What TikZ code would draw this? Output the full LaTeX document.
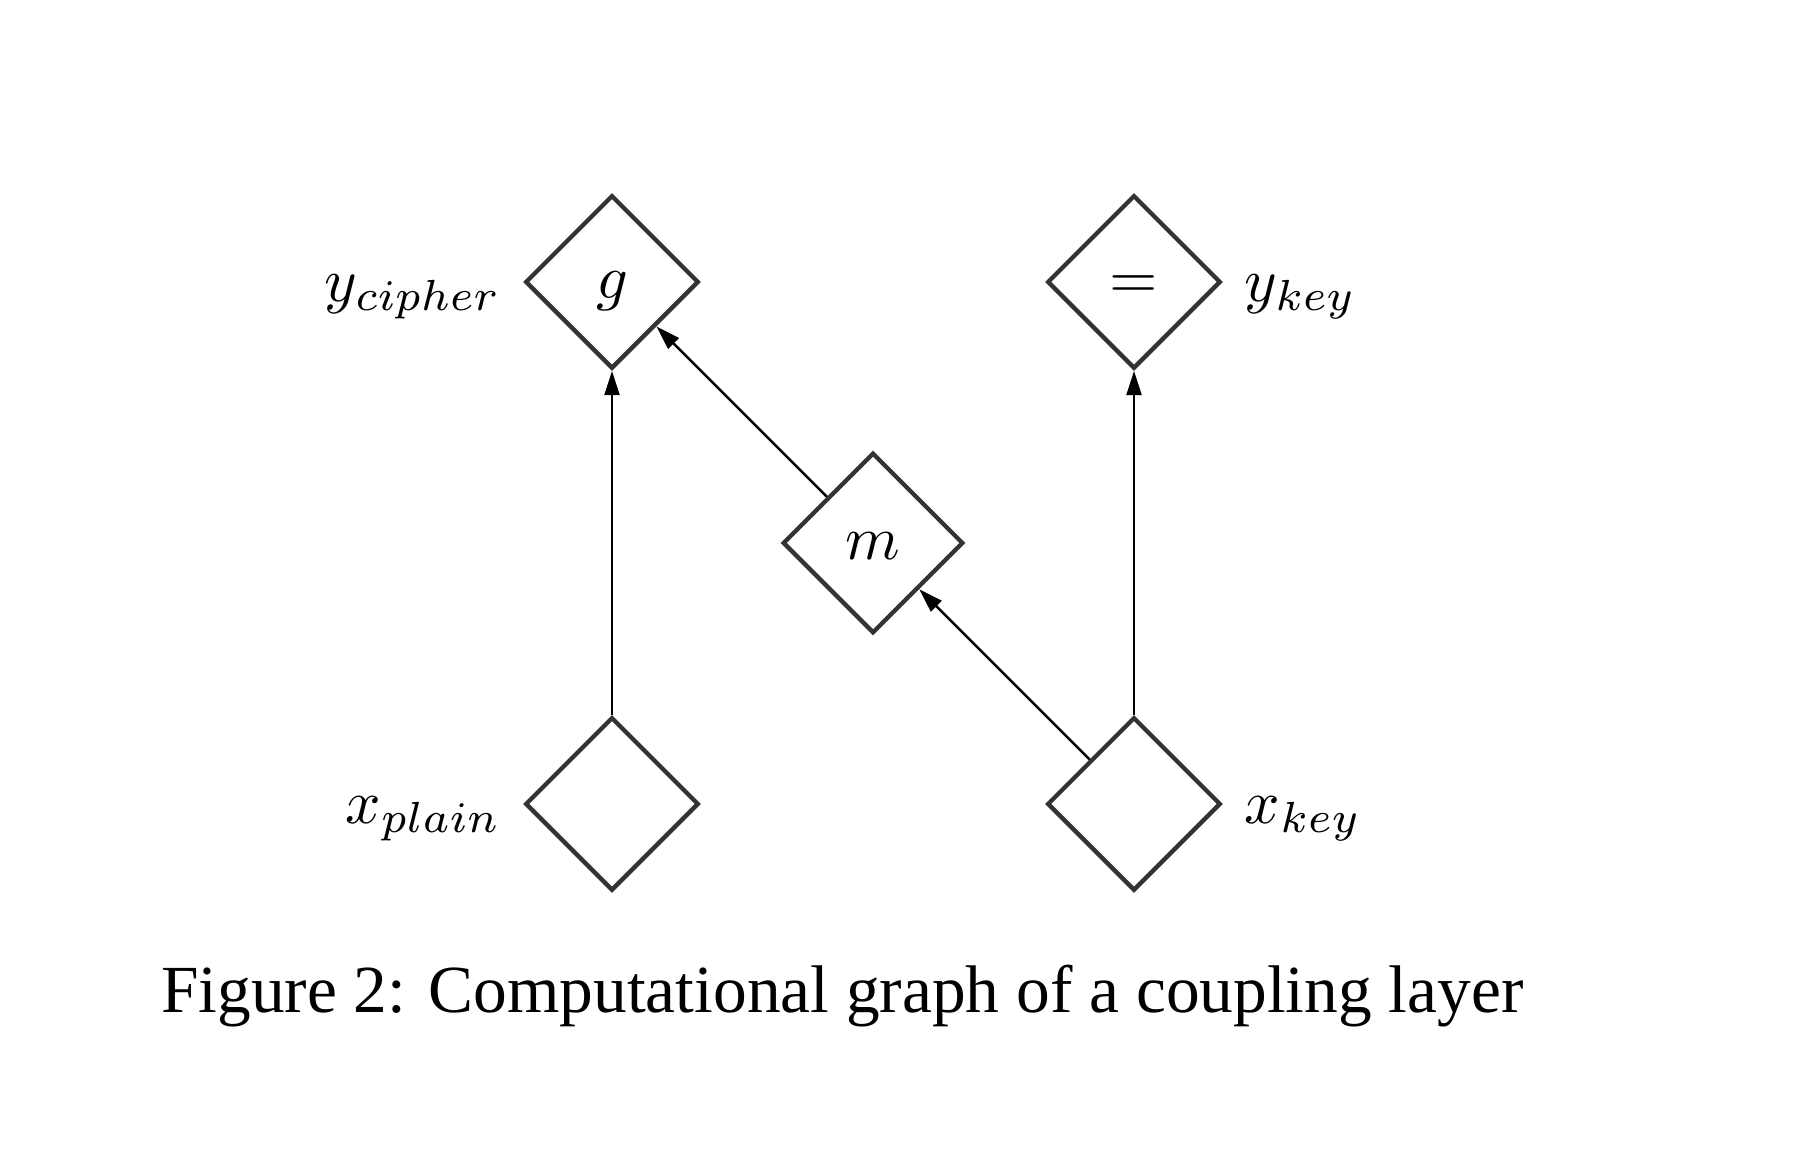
\documentclass[tikz,border=0pt]{standalone}
\usepackage{amsmath}
\usepackage{fontspec}
\newfontfamily\capfont{Liberation Serif}
\usepackage{tikz}
\usetikzlibrary{arrows.meta, positioning, shapes.geometric}

\begin{document}
\begin{tikzpicture}[x=5.65mm, y=5.65mm,
  layer/.style={diamond, draw=black!80, line width=0.7pt, inner sep=0pt,
    text height=1.5ex, text depth=.25ex,
    minimum width=\diagsize, minimum height=\diagsize},
  lbl/.style={yshift=-0.85mm},
  flow/.style={-{Triangle[length=3.9pt, width=2.4pt]}, line width=0.4pt}]

% page size of the reference (17.94 x 11.74 units)
\useasboundingbox (0,0) rectangle (17.94,11.74);

% Uniform diamond size
\def\diagsize{9.8mm}

% outputs (top row)
\node[layer] (g)  at (6.12,8.92)  {$g$};
\node[layer] (eq) at (11.34,8.92) {$=$};

% coupling function
\node[layer, minimum width=10.2mm, minimum height=10.2mm] (m) at (8.73,6.31) {$m$};

% inputs (bottom row)
\node[layer] (xplain) at (6.12,3.70)  {};
\node[layer] (xkey)   at (11.34,3.70) {};

% labels
\node[lbl, left=0mm of g]       (ycipher)   {$y_{cipher}$};
\node[lbl, right=0mm of eq]     (ykey)      {$y_{key}$};
\node[lbl, left=0mm of xplain]  (xplainlbl) {$x_{plain}$};
\node[lbl, right=0mm of xkey]   (xkeylbl)   {$x_{key}$};

% data flow
\draw[flow] (xplain) -- (g);
\draw[flow] (xkey) -- (eq);
\draw[flow] (xkey) -- (m);
\draw[flow] (m) -- (g);

% caption
\node[anchor=base west, inner sep=0pt, font=\capfont\fontsize{10.83}{13}\selectfont] (caption) at (1.60,1.61)
  {Figure 2: Computational graph of a coupling layer};

\end{tikzpicture}
\end{document}
